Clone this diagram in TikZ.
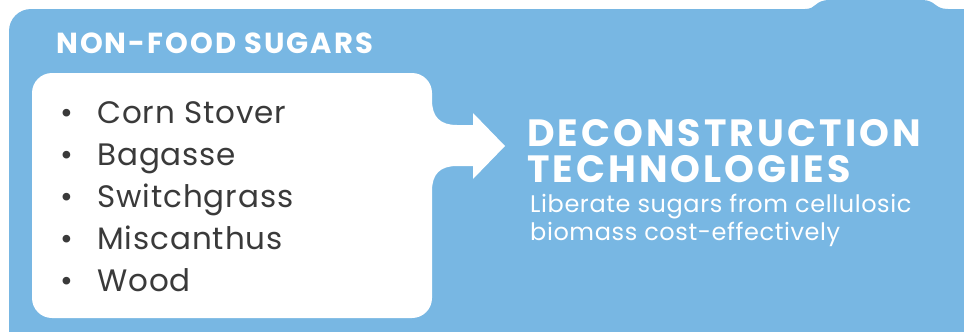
\documentclass[tikz,border=0pt]{standalone}
\usepackage{fontspec}
\setmainfont{Poppins}
\usepackage{tikz}
\usetikzlibrary{positioning}

\definecolor{sugarblue}{HTML}{78B7E3}
\definecolor{itemgray}{HTML}{3A3A3A}

\begin{document}
\begin{tikzpicture}
		[x=1pt,y=-1pt,
		head/.style={anchor=base west,inner sep=0pt,text=white,font=\bfseries\fontsize{29}{29}\selectfont\addfontfeatures{LetterSpace=7}},
		item/.style={anchor=base west,inner sep=0pt,text=itemgray,font=\fontsize{31}{31}\selectfont\addfontfeatures{LetterSpace=3}},
		title/.style={anchor=base west,inner sep=0pt,text=white,font=\bfseries\fontsize{38}{38}\selectfont\addfontfeatures{LetterSpace=8}},
		note/.style={anchor=base west,inner sep=0pt,text=white,font=\fontsize{24}{24}\selectfont\addfontfeatures{LetterSpace=2.5}}]

			\useasboundingbox (0,0) rectangle (964,332);
			\clip (0,0) rectangle (964,332);

			% blue panel with the tab on top
			\fill[sugarblue] (9,358) [rounded corners=22pt] -- (9,9) [sharp corners] -- (805,9)
				.. controls (817,9) and (814,0) .. (830,0) -- (922,0)
				.. controls (936,0) and (934,9) .. (948,9)
				[rounded corners=16pt] -- (980,9) -- (980,358) -- cycle;

			% white box with the arrow
			\fill[white] (32,190) [rounded corners=20pt] -- (32,73) -- (432,73) [sharp corners] -- (432,100)
				.. controls (432,117) and (440,125) .. (457,125) -- (473,125) -- (473,113) -- (505,146)
				-- (473,179) -- (473,166) -- (457,166) .. controls (440,166) and (432,174) .. (432,191)
				[rounded corners=20pt] -- (432,318) -- (32,318) -- (32,190);

			\node[head] (nonfood) at (56,53) {NON-FOOD SUGARS};

			\node[item] (corn) at (60,123) {\makebox[37pt][l]{\textbullet}Corn Stover};
			\node[item] (bagasse) at (60,165) {\makebox[37pt][l]{\textbullet}Bagasse};
			\node[item] (switch) at (60,207) {\makebox[37pt][l]{\textbullet}Switchgrass};
			\node[item] (misc) at (60,249) {\makebox[37pt][l]{\textbullet}Miscanthus};
			\node[item] (wood) at (60,291) {\makebox[37pt][l]{\textbullet}Wood};

			\node[title] (deco) at (527,146) {DECONSTRUCTION};
			\node[title] (techno) at (527,182) {TECHNOLOGIES};
			\node[note] (liberate) at (530,212) {Liberate sugars from cellulosic};
			\node[note] (biomass) at (530,240) {biomass cost-effectively};

	\end{tikzpicture}
\end{document}
